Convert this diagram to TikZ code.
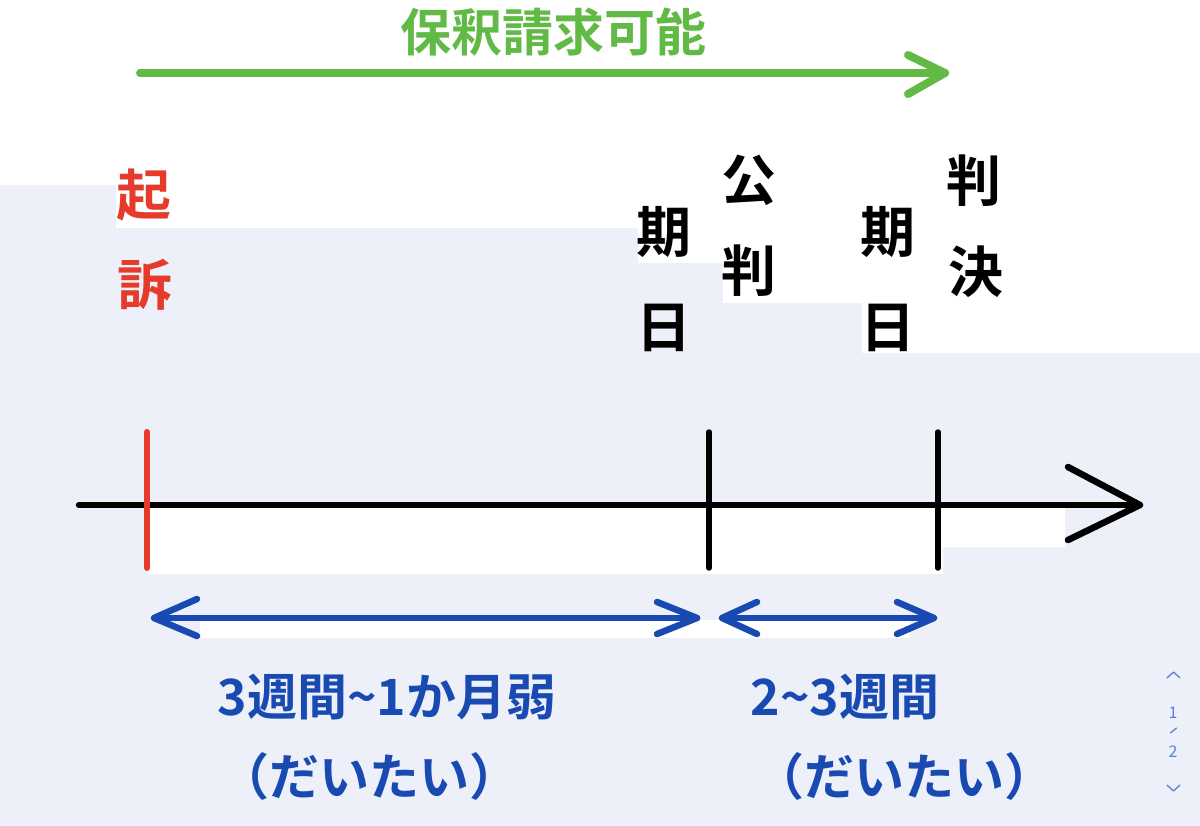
\documentclass[tikz,border=0pt]{standalone}
\usepackage{fontspec}
\newfontfamily\jp{Noto Sans CJK JP}[BoldFont={Noto Sans CJK JP Bold}]
\definecolor{bgblue}{RGB}{237,240,248}
\definecolor{grn}{RGB}{98,186,70}
\definecolor{redc}{RGB}{230,58,43}
\definecolor{blu}{RGB}{24,74,178}
\definecolor{pager}{RGB}{88,128,218}
\begin{document}
\begin{tikzpicture}[x=1pt,y=-1pt,
  vchar/.style={inner sep=0pt, anchor=base, font=\jp\bfseries\fontsize{55}{55}\selectfont},
  bluetxt/.style={inner sep=0pt, anchor=base, text=blu, font=\jp\bfseries\fontsize{50}{50}\selectfont},
  greentxt/.style={inner sep=0pt, anchor=base, text=grn, font=\jp\bfseries\fontsize{51}{51}\selectfont},
  pagetxt/.style={inner sep=0pt, anchor=base, text=pager, font=\jp\fontsize{16}{16}\selectfont},
  greenline/.style={draw=grn, line width=8pt, line cap=round, line join=round},
  axisline/.style={draw=black, line width=6.5pt, line cap=round, line join=round},
  tickline/.style={line width=5.5pt, line cap=round},
  blueline/.style={draw=blu, line width=6.5pt, line cap=round, line join=round},
  pageline/.style={draw=pager, line width=1.3pt, line cap=round, line join=round}]
\useasboundingbox (0,0) rectangle (1200,826);
% background
\fill[bgblue] (0,0) rectangle (1200,826);
\fill[white] (0,0) -- (1200,0) -- (1200,353) -- (862,353) -- (862,303) -- (723,303)
  -- (723,263) -- (638,263) -- (638,228) -- (116,228) -- (116,185) -- (0,185) -- cycle;
\fill[white] (147,505) -- (1065,505) -- (1065,547) -- (943,547) -- (943,574) -- (147,574) -- cycle;
\fill[white] (200,620) rectangle (910,638);

% green title and arrow
\node[greentxt] (title) at (553,52) {保釈請求可能};
\coordinate (gs) at (140,73);
\coordinate (ge) at (945,73);
\draw[greenline] (gs) -- (ge);
\draw[greenline] (908,55) -- (ge) -- (908,94);

% vertical labels
\node[vchar, text=redc] (ki) at (144,216) {起};
\node[vchar, text=redc] (so) at (145,306) {訴};
\node[vchar] (ki1) at (664,253) {期};
\node[vchar] (bi1) at (664,348) {日};
\node[vchar] (ko) at (749,201) {公};
\node[vchar] (ha1) at (749,292) {判};
\node[vchar] (ki2) at (888,253) {期};
\node[vchar] (bi2) at (888,348) {日};
\node[vchar] (ha2) at (974,202) {判};
\node[vchar] (ke) at (976,293) {決};

% time axis
\coordinate (as) at (79,505);
\coordinate (ae) at (1140,505);
\draw[axisline] (as) -- (ae);
\draw[axisline] (1068,467) -- (ae) -- (1068,540);

% ticks
\coordinate (t1a) at (147,432); \coordinate (t1b) at (147,568);
\coordinate (t2a) at (709,432); \coordinate (t2b) at (709,568);
\coordinate (t3a) at (938,432); \coordinate (t3b) at (938,568);
\draw[tickline, draw=redc, line width=6pt] (t1a) -- (t1b);
\draw[tickline, draw=black] (t2a) -- (t2b);
\draw[tickline, draw=black] (t3a) -- (t3b);

% blue double arrows
\coordinate (b1l) at (154,618); \coordinate (b1r) at (697,618);
\coordinate (b2l) at (722,618); \coordinate (b2r) at (934,618);
\draw[blueline] (b1l) -- (b1r);
\draw[blueline] (197,599) -- (b1l) -- (197,636);
\draw[blueline] (657,602) -- (b1r) -- (657,634);
\draw[blueline] (b2l) -- (b2r);
\draw[blueline] (757,602) -- (b2l) -- (757,634);
\draw[blueline] (897,602) -- (b2r) -- (897,634);

% blue labels
\node[bluetxt] (d1) at (387,715) {3週間\char"7E 1か月弱};
\node[bluetxt] (d1b) at (369,795) {（だいたい）};
\node[bluetxt] (d2) at (845,715) {2\char"7E 3週間};
\node[bluetxt] (d2b) at (904,795) {（だいたい）};

% page indicator
\draw[pageline] (1167,678) -- (1173.5,672) -- (1180,678);
\node[pagetxt] (p1) at (1173,718) {1};
\draw[pageline] (1170.5,733) -- (1176.5,728);
\node[pagetxt] (p2) at (1173,757) {2};
\draw[pageline] (1167,785) -- (1173.5,791) -- (1180,785);
\end{tikzpicture}
\end{document}
